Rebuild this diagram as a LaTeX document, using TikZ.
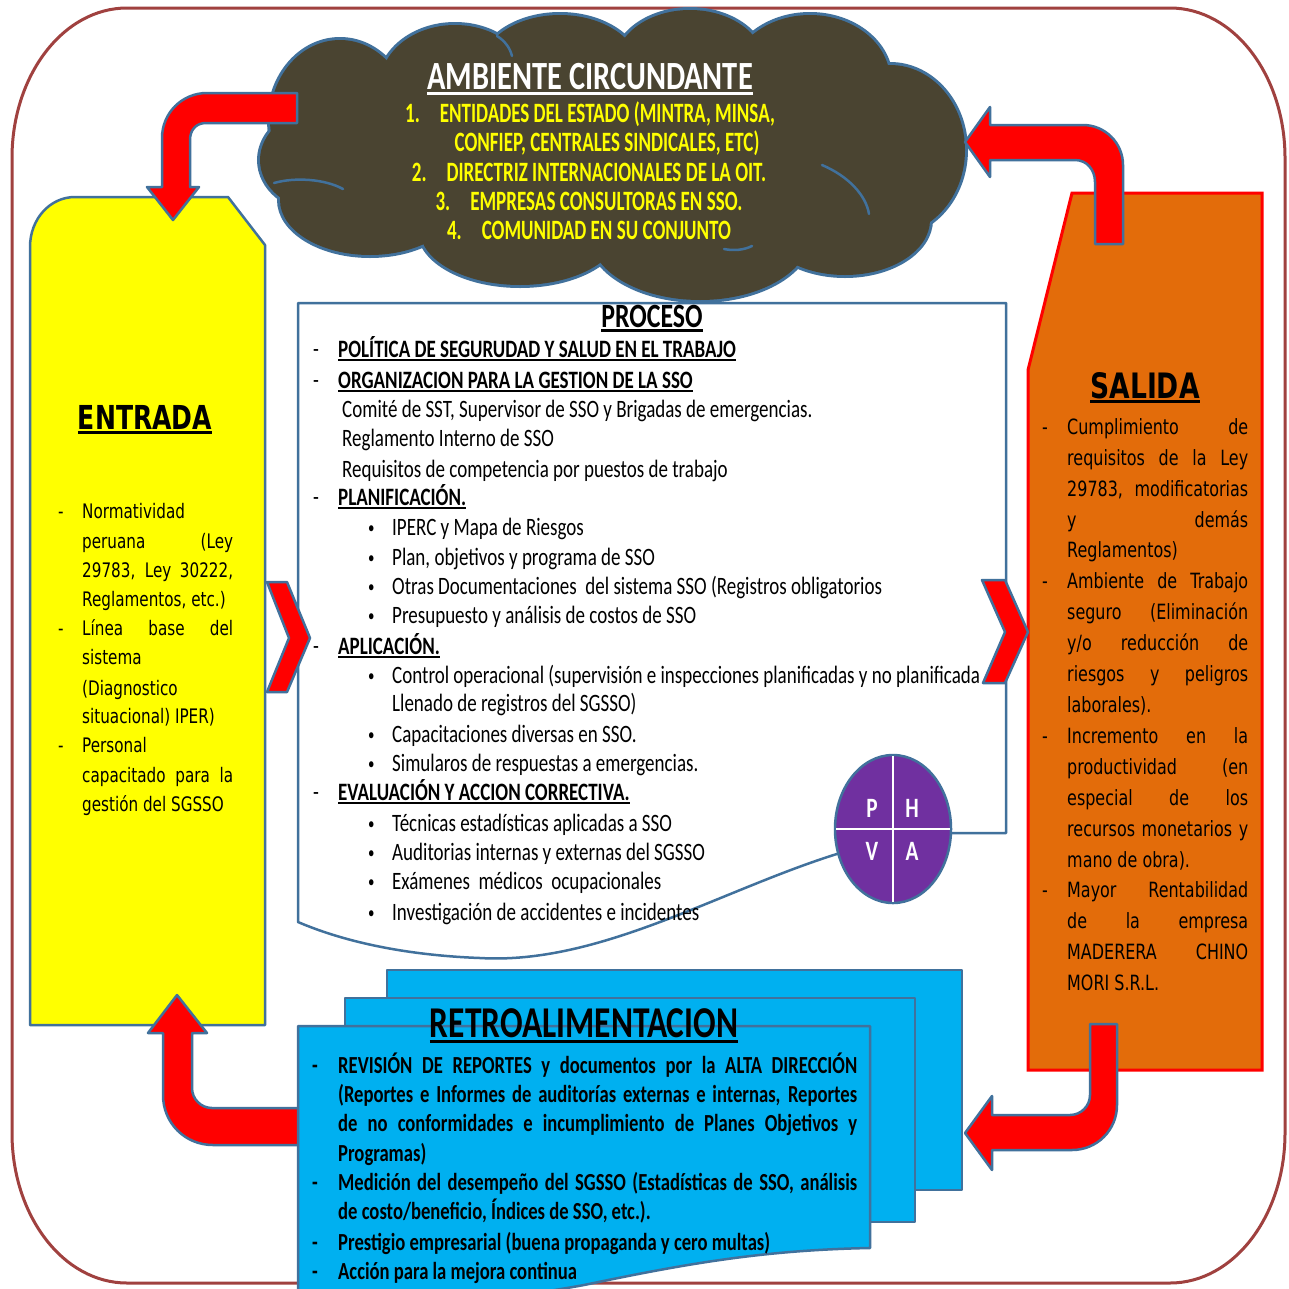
\documentclass[tikz,border=0pt]{standalone}
\usepackage{fontspec}
\setmainfont{Carlito}[FakeStretch=0.76]
\newfontfamily\cond{Carlito}[FakeStretch=0.68]
\newfontfamily\verd{DejaVu Sans}[FakeStretch=0.76]
\newcommand\fsz[1]{\fontsize{#1pt}{#1pt}\selectfont}
\newcommand\ulx[1]{\leavevmode\setbox0=\hbox{#1}\rlap{\rule[-0.14em]{\wd0}{0.07em}}\box0}

\definecolor{framered}{HTML}{A0413F}
\definecolor{edgeblue}{HTML}{41719C}
\definecolor{cloudfill}{HTML}{4A4431}
\definecolor{orng}{HTML}{E36C0A}
\definecolor{cyanfill}{HTML}{00B0F0}
\definecolor{purp}{HTML}{7030A0}
\definecolor{yel}{HTML}{FFFF00}
\definecolor{arrowred}{HTML}{FF0000}

\tikzset{
  edge/.style={draw=edgeblue, line width=2.5pt, line join=round},
  redarrow/.style={edge, fill=arrowred},
  base/.style={inner sep=0pt, anchor=base west},
  ctxt/.style={inner sep=0pt, anchor=base, font=\cond\fsz{28}\bfseries, text=yel},
  ptxt/.style={base, font=\fsz{25}},
  pbul/.style={base, font=\fsz{17}},
  phead/.style={base, font=\fsz{25}\bfseries},
  etxt/.style={base, font=\verd\fsz{20}},
  stxt/.style={base, font=\verd\fsz{21}},
  rtxt/.style={base, font=\fsz{24.5}\bfseries},
  pletter/.style={inner sep=0pt, font=\fsz{28}\bfseries, text=white}
}

\begin{document}
\begin{tikzpicture}[x=1pt,y=-1pt]
\useasboundingbox (0,0) rectangle (1289,1288);
\fill[white] (0,0) rectangle (1289,1288);

% outer rounded frame
\draw[framered, line width=3pt] (127,8) -- (1170,8)
  .. controls (1233.5,8) and (1285,75) .. (1285,158) -- (1285,1133)
  .. controls (1285,1216) and (1233.5,1283) .. (1170,1283) -- (127,1283)
  .. controls (63.5,1283) and (12,1216) .. (12,1133) -- (12,158)
  .. controls (12,75) and (63.5,8) .. (127,8) -- cycle;

% process sheet with wavy bottom
\draw[edge, fill=white] (298,303) -- (1006,303) -- (1006,833) -- (893,833) -- (840,853)
  .. controls (720,890) and (600,965) .. (480,958)
  .. controls (400,955) and (340,940) .. (298,922) -- cycle;

% input panel
\draw[edge, fill=yel] (30,247) .. controls (30,219) and (50,197) .. (75,197) -- (228,197)
  -- (265,245) -- (265,1025) -- (30,1025) -- cycle;

% output panel
\draw[draw=arrowred, line width=3pt, fill=orng] (1072,193) -- (1262,193) -- (1262,1070)
  -- (1028,1070) -- (1028,370) -- cycle;

% feedback arrow into the input panel
\draw[redarrow] (299,1108) -- (212,1108) .. controls (201,1108) and (192,1099) .. (192,1088)
  -- (192,1033) -- (207,1033) -- (177,995) -- (148,1033) -- (163,1033) -- (163,1095)
  .. controls (163,1123) and (185,1145) .. (213,1145) -- (299,1145) -- cycle;

% stacked feedback documents
\draw[edge, fill=cyanfill] (387,970) rectangle (962,1190);
\draw[edge, fill=cyanfill] (345,998) rectangle (915,1222);
\draw[edge, fill=cyanfill] (298,1026) -- (870,1026) -- (870,1248)
  .. controls (760,1250) and (680,1265) .. (584,1285)
  .. controls (540,1293) and (500,1298) .. (470,1300) -- (298,1300) -- cycle;

% cloud: outline first, then fill over it
\foreach \cx/\cy/\rx/\ry in {340/120/70/80, 455/85/75/60, 560/70/80/55, 690/65/75/55,
    810/80/80/65, 890/150/75/85, 845/220/85/55, 700/235/110/65, 520/230/100/55,
    370/200/90/55, 320/160/60/50}
  \draw[edgeblue, line width=6pt] (\cx,\cy) ellipse [x radius=\rx, y radius=\ry];
\foreach \cx/\cy/\rx/\ry in {340/120/70/80, 455/85/75/60, 560/70/80/55, 690/65/75/55,
    810/80/80/65, 890/150/75/85, 845/220/85/55, 700/235/110/65, 520/230/100/55,
    370/200/90/55, 320/160/60/50}
  \fill[cloudfill] (\cx,\cy) ellipse [x radius=\rx, y radius=\ry];
\fill[cloudfill] (615,160) ellipse [x radius=280, y radius=90];
% inner creases of the cloud
\draw[edgeblue, line width=2.5pt, line cap=round]
  (274,183) .. controls (295,177) and (325,179) .. (343,189)
  (822,165) .. controls (848,176) and (866,195) .. (869,214)
  (497,36) .. controls (505,41) and (510,48) .. (512,56)
  (724,249) .. controls (734,251) and (744,250) .. (752,246);

% bent arrows around the cycle
\draw[redarrow] (297,93) -- (207,93) .. controls (182,93) and (162,113) .. (162,138)
  -- (162,187) -- (147,187) -- (173,220) -- (199,187) -- (190,187) -- (190,140)
  .. controls (190,130) and (196,123) .. (206,123) -- (297,123) -- cycle;
\draw[redarrow] (1095,244) -- (1095,182) .. controls (1095,170) and (1087,160) .. (1075,160)
  -- (990,160) -- (990,177) -- (965,142) -- (990,107) -- (990,125) -- (1083,125)
  .. controls (1105,125) and (1123,143) .. (1123,165) -- (1123,244) -- cycle;
\draw[redarrow] (1090,1024) -- (1090,1095) .. controls (1090,1106) and (1081,1115) .. (1070,1115)
  -- (992,1115) -- (992,1096) -- (965,1133) -- (992,1170) -- (992,1150) -- (1072,1150)
  .. controls (1097,1150) and (1117,1130) .. (1117,1105) -- (1117,1024) -- cycle;

% chevrons
\draw[redarrow] (267,582) -- (287,582) -- (310,638) -- (287,692) -- (267,692) -- (289,638) -- cycle;
\draw[redarrow] (982,580) -- (1005,580) -- (1028,632) -- (1005,683) -- (983,683) -- (1005,632) -- cycle;

% PHVA cycle
\draw[edge, fill=purp] (893,829) ellipse [x radius=58, y radius=74];
\draw[white, line width=2pt] (893,756) -- (893,902) (836,829) -- (950,829);
\node[pletter] (lp) at (872,808) {P};
\node[pletter] (lh) at (912,808) {H};
\node[pletter] (lv) at (872,851) {V};
\node[pletter] (la) at (912,851) {A};

% cloud text
\node[inner sep=0pt, anchor=base, font=\fsz{40}\bfseries, text=white] (ambT) at (590,89) {\ulx{AMBIENTE CIRCUNDANTE}};
\node[ctxt] (amb1) at (590,122) {1.\hspace{20pt}ENTIDADES DEL ESTADO (MINTRA, MINSA,};
\node[ctxt] (amb2) at (607,151) {CONFIEP, CENTRALES SINDICALES, ETC)};
\node[ctxt] (amb3) at (589,181) {2.\hspace{20pt}DIRECTRIZ INTERNACIONALES DE LA OIT.};
\node[ctxt] (amb4) at (589,210) {3.\hspace{20pt}EMPRESAS CONSULTORAS EN SSO.};
\node[ctxt] (amb5) at (589,239) {4.\hspace{20pt}COMUNIDAD EN SU CONJUNTO};

% process text
\node[inner sep=0pt, anchor=base, font=\fsz{34}\bfseries] (procT) at (652,327) {\ulx{PROCESO}};
\node[ptxt] (pd1) at (313,357) {-};
\node[phead] (ph1) at (338,357) {\ulx{POLÍTICA DE SEGURUDAD Y SALUD EN EL TRABAJO}};
\node[ptxt] (pd2) at (313,388) {-};
\node[phead] (ph2) at (338,388) {\ulx{ORGANIZACION PARA LA GESTION DE LA SSO}};
\node[ptxt] (po1) at (342,417) {Comité de SST, Supervisor de SSO y Brigadas de emergencias.};
\node[ptxt] (po2) at (342,446) {Reglamento Interno de SSO};
\node[ptxt] (po3) at (342,477) {Requisitos de competencia por puestos de trabajo};
\node[ptxt] (pd3) at (313,505) {-};
\node[phead] (ph3) at (338,505) {\ulx{PLANIFICACIÓN.}};
\node[pbul] (pb1) at (368,533) {•};
\node[ptxt] (pp1) at (392,535) {IPERC y Mapa de Riesgos};
\node[pbul] (pb2) at (368,563) {•};
\node[ptxt] (pp2) at (392,565) {Plan, objetivos y programa de SSO};
\node[pbul] (pb3) at (368,592) {•};
\node[ptxt] (pp3) at (392,594) {Otras Documentaciones\ \ del sistema SSO (Registros obligatorios};
\node[pbul] (pb4) at (368,621) {•};
\node[ptxt] (pp4) at (392,623) {Presupuesto y análisis de costos de SSO};
\node[ptxt] (pd4) at (313,654) {-};
\node[phead] (ph4) at (338,654) {\ulx{APLICACIÓN.}};
\node[pbul] (pb5) at (368,681) {•};
\node[ptxt] (pa1) at (392,683) {Control operacional (supervisión e inspecciones planificadas y no planificada};
\node[ptxt] (pa1b) at (392,711) {Llenado de registros del SGSSO)};
\node[pbul] (pb6) at (368,740) {•};
\node[ptxt] (pa2) at (392,742) {Capacitaciones diversas en SSO.};
\node[pbul] (pb7) at (368,769) {•};
\node[ptxt] (pa3) at (392,771) {Simularos de respuestas a emergencias.};
\node[ptxt] (pd5) at (313,800) {-};
\node[phead] (ph5) at (338,800) {\ulx{EVALUACIÓN Y ACCION CORRECTIVA.}};
\node[pbul] (pb8) at (368,829) {•};
\node[ptxt] (pe1) at (392,831) {Técnicas estadísticas aplicadas a SSO};
\node[pbul] (pb9) at (368,858) {•};
\node[ptxt] (pe2) at (392,860) {Auditorias internas y externas del SGSSO};
\node[pbul] (pb10) at (368,887) {•};
\node[ptxt] (pe3) at (392,889) {Exámenes\ \ médicos\ \ ocupacionales};
\node[pbul] (pb11) at (368,918) {•};
\node[ptxt] (pe4) at (392,920) {Investigación de accidentes e incidentes};

% input text
\node[inner sep=0pt, anchor=base, font=\verd\bfseries\fsz{33}] (entT) at (145,429) {\ulx{ENTRADA}};
\node[etxt] (ed1) at (58,518) {-};
\node[etxt] (e1) at (82,518) {\makebox[151pt][l]{Normatividad}};
\node[etxt] (e2) at (82,548) {\makebox[151pt][s]{peruana (Ley}};
\node[etxt] (e3) at (82,577) {\makebox[151pt][s]{29783, Ley 30222,}};
\node[etxt] (e4) at (82,606) {\makebox[151pt][l]{Reglamentos, etc.)}};
\node[etxt] (ed2) at (58,635) {-};
\node[etxt] (e5) at (82,635) {\makebox[151pt][s]{Línea base del}};
\node[etxt] (e6) at (82,664) {\makebox[151pt][l]{sistema}};
\node[etxt] (e7) at (82,695) {\makebox[151pt][l]{(Diagnostico}};
\node[etxt] (e8) at (82,723) {\makebox[151pt][l]{situacional)\ IPER)}};
\node[etxt] (ed3) at (58,752) {-};
\node[etxt] (e9) at (82,752) {\makebox[151pt][l]{Personal}};
\node[etxt] (e10) at (82,782) {\makebox[151pt][s]{capacitado para la}};
\node[etxt] (e11) at (82,811) {\makebox[151pt][l]{gestión del SGSSO}};

% output text
\node[inner sep=0pt, anchor=base, font=\verd\bfseries\fsz{35}] (salT) at (1145,398) {\ulx{SALIDA}};
\node[stxt] (sd1) at (1042,434) {-};
\node[stxt] (s1) at (1067,434) {\makebox[181pt][s]{Cumplimiento de}};
\node[stxt] (s2) at (1067,465) {\makebox[181pt][s]{requisitos de la Ley}};
\node[stxt] (s3) at (1067,496) {\makebox[181pt][s]{29783, modificatorias}};
\node[stxt] (s4) at (1067,527) {\makebox[181pt][s]{y demás}};
\node[stxt] (s5) at (1067,557) {\makebox[181pt][l]{Reglamentos)}};
\node[stxt] (sd2) at (1042,588) {-};
\node[stxt] (s6) at (1067,588) {\makebox[181pt][s]{Ambiente de Trabajo}};
\node[stxt] (s7) at (1067,619) {\makebox[181pt][s]{seguro (Eliminación}};
\node[stxt] (s8) at (1067,650) {\makebox[181pt][s]{y/o reducción de}};
\node[stxt] (s9) at (1067,681) {\makebox[181pt][s]{riesgos y peligros}};
\node[stxt] (s10) at (1067,712) {\makebox[181pt][l]{laborales).}};
\node[stxt] (sd3) at (1042,743) {-};
\node[stxt] (s11) at (1067,743) {\makebox[181pt][s]{Incremento en la}};
\node[stxt] (s12) at (1067,774) {\makebox[181pt][s]{productividad (en}};
\node[stxt] (s13) at (1067,805) {\makebox[181pt][s]{especial de los}};
\node[stxt] (s14) at (1067,836) {\makebox[181pt][s]{recursos monetarios y}};
\node[stxt] (s15) at (1067,867) {\makebox[181pt][l]{mano de obra).}};
\node[stxt] (sd4) at (1042,897) {-};
\node[stxt] (s16) at (1067,897) {\makebox[181pt][s]{Mayor Rentabilidad}};
\node[stxt] (s17) at (1067,928) {\makebox[181pt][s]{de la empresa}};
\node[stxt] (s18) at (1067,959) {\makebox[181pt][s]{MADERERA CHINO}};
\node[stxt] (s19) at (1067,990) {\makebox[181pt][l]{MORI S.R.L.}};

% feedback text
\node[inner sep=0pt, anchor=base, font=\fsz{44}\bfseries] (retT) at (584,1037) {\ulx{RETROALIMENTACION}};
\node[rtxt] (rd1) at (312,1073) {-};
\node[rtxt] (r1) at (338,1073) {\makebox[519pt][s]{REVISIÓN DE REPORTES y documentos por la ALTA DIRECCIÓN}};
\node[rtxt] (r2) at (338,1102) {\makebox[519pt][s]{(Reportes e Informes de auditorías externas e internas, Reportes}};
\node[rtxt] (r3) at (338,1131) {\makebox[519pt][s]{de no conformidades e incumplimiento de Planes Objetivos y}};
\node[rtxt] (r4) at (338,1161) {Programas)};
\node[rtxt] (rd2) at (312,1190) {-};
\node[rtxt] (r5) at (338,1190) {\makebox[519pt][s]{Medición del desempeño del SGSSO (Estadísticas de SSO, análisis}};
\node[rtxt] (r6) at (338,1219) {de costo/beneficio, Índices de SSO, etc.).};
\node[rtxt] (rd3) at (312,1250) {-};
\node[rtxt] (r7) at (338,1250) {Prestigio empresarial (buena propaganda y cero multas)};
\node[rtxt] (rd4) at (312,1279) {-};
\node[rtxt] (r8) at (338,1279) {Acción para la mejora continua};
\end{tikzpicture}
\end{document}
